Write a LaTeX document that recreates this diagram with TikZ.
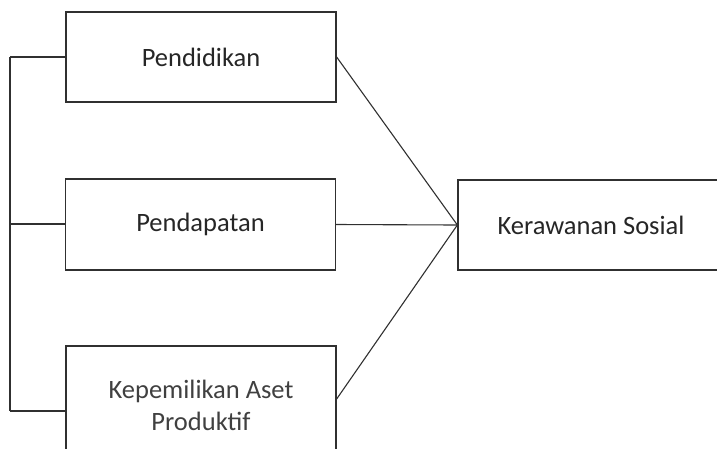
\documentclass[tikz,border=0pt]{standalone}
\usepackage{fontspec}
\setmainfont{Carlito}
\definecolor{txt}{HTML}{262626}
\definecolor{txtl}{HTML}{404040}
\definecolor{ln}{HTML}{303030}
\begin{document}
\begin{tikzpicture}[x=1pt,y=-1pt,
  box/.style={draw=ln,line width=1.3pt,rectangle,minimum width=270pt,minimum height=90pt,inner sep=0pt,
    font=\fontsize{26.5}{32}\selectfont,text=txt},
  conn/.style={draw=ln,line width=1.1pt}]
\useasboundingbox (0,0) rectangle (717,448);
\clip (0,0) rectangle (717,448);
\node[box] (pend) at (201,57) {Pendidikan};
\node[box,minimum height=91pt] (pdpt) at (200.5,224.5) {Pendapatan};
\node[box,minimum height=106pt] (kep) at (201,399) {};
\node[font=\fontsize{26.5}{32}\selectfont,text=txtl,align=center,inner sep=0pt] (kept) at (201,405) {Kepemilikan Aset\\Produktif};
\node[box,minimum width=266pt] (ker) at (591,225) {Kerawanan Sosial};
\coordinate (b1) at (10,57);
\coordinate (b2) at (10,224);
\coordinate (b3) at (10,411);
\draw[conn] (b1) -- (b3);
\draw[conn] (b1) -- (pend.west);
\draw[conn] (b2) -- (b2 -| pdpt.west);
\draw[conn] (b3) -- (b3 -| kep.west);
\draw[conn] (pend.east) -- (ker.west);
\draw[conn] (pdpt.east) -- (ker.west);
\draw[conn] (kep.east) -- (ker.west);
\end{tikzpicture}
\end{document}
